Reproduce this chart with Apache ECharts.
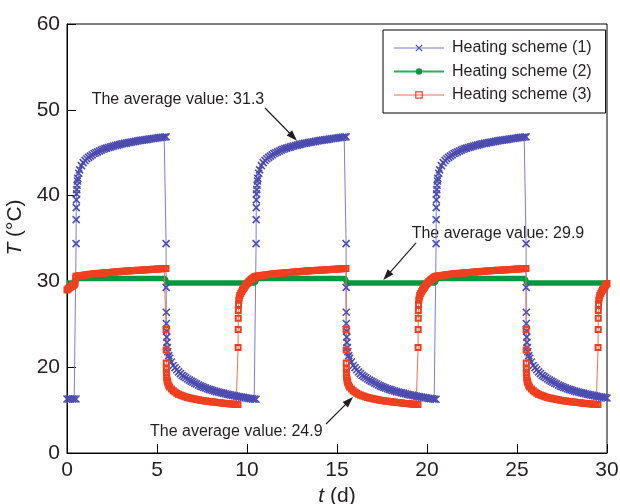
<!DOCTYPE html>
<html><head><meta charset="utf-8">
<script src="https://cdn.jsdelivr.net/npm/echarts@6/dist/echarts.min.js"></script>
<style>html,body{margin:0;padding:0;background:#fff}#c{width:620px;height:504px}</style>
</head><body><div id="c"></div>
<script>
const seriesNames = ['Heating scheme (1)', 'Heating scheme (2)', 'Heating scheme (3)'];
const yTickValues = [10, 20, 30, 40, 50, 60];
const yTickLabels = ['0', '20', '30', '40', '50', '60'];

// Heating scheme (1): [t (d), T (°C)]
const scheme1 = [
[0,16.3],[0.1,16.3],[0.2,16.3],[0.3,16.3],[0.4,16.3],[0.5,16.3],
[0.505,34.4],[0.51,37.2],[0.515,38.6],[0.52,39.5],[0.53,40.2],[0.54,40.7],[0.56,41.2],[0.58,41.7],[0.6,42.0],[0.65,42.6],[0.7,43.0],[0.8,43.5],[0.9,43.85],[1.0,44.1],[1.1,44.3],[1.2,44.45],[1.3,44.6],[1.4,44.75],[1.5,44.9],[1.6,45.0],[1.7,45.1],[1.8,45.2],[1.9,45.3],[2.0,45.4],[2.1,45.47],[2.2,45.53],[2.3,45.6],[2.4,45.65],[2.5,45.72],[2.6,45.78],[2.7,45.84],[2.8,45.89],[2.9,45.94],[3.0,46.0],[3.1,46.04],[3.2,46.08],[3.3,46.12],[3.4,46.17],[3.5,46.21],[3.6,46.25],[3.7,46.28],[3.8,46.32],[3.9,46.36],[4.0,46.4],[4.1,46.43],[4.2,46.46],[4.3,46.5],[4.4,46.53],[4.5,46.56],[4.6,46.59],[4.7,46.62],[4.8,46.65],[4.9,46.68],[5.0,46.71],[5.1,46.74],[5.2,46.77],[5.3,46.8],[5.4,46.83],[5.5,46.85],
[5.505,34.4],[5.51,29.3],[5.515,26.4],[5.52,25.1],[5.53,24.2],[5.54,23.5],[5.55,22.9],[5.57,22.3],[5.6,21.8],[5.65,21.35],[5.7,21.05],[5.8,20.6],[5.9,20.2],[6.0,19.95],[6.1,19.7],[6.2,19.45],[6.3,19.25],[6.4,19.05],[6.5,18.9],[6.6,18.77],[6.7,18.63],[6.8,18.5],[6.9,18.38],[7.0,18.27],[7.1,18.15],[7.2,18.04],[7.3,17.93],[7.4,17.83],[7.5,17.74],[7.6,17.65],[7.7,17.57],[7.8,17.49],[7.9,17.42],[8.0,17.35],[8.1,17.29],[8.2,17.22],[8.3,17.16],[8.4,17.11],[8.5,17.05],[8.6,17.0],[8.7,16.95],[8.8,16.9],[8.9,16.85],[9.0,16.8],[9.1,16.76],[9.2,16.71],[9.3,16.67],[9.4,16.63],[9.5,16.59],[9.6,16.55],[9.7,16.51],[9.8,16.48],[9.9,16.44],[10.0,16.41],[10.1,16.37],[10.2,16.34],[10.3,16.31],[10.4,16.28],[10.5,16.26],
[10.505,34.4],[10.51,37.2],[10.515,38.6],[10.52,39.5],[10.53,40.2],[10.54,40.7],[10.56,41.2],[10.58,41.7],[10.6,42.0],[10.65,42.6],[10.7,43.0],[10.8,43.5],[10.9,43.85],[11.0,44.1],[11.1,44.3],[11.2,44.45],[11.3,44.6],[11.4,44.75],[11.5,44.9],[11.6,45.0],[11.7,45.1],[11.8,45.2],[11.9,45.3],[12.0,45.4],[12.1,45.47],[12.2,45.53],[12.3,45.6],[12.4,45.65],[12.5,45.72],[12.6,45.78],[12.7,45.84],[12.8,45.89],[12.9,45.94],[13.0,46.0],[13.1,46.04],[13.2,46.08],[13.3,46.12],[13.4,46.17],[13.5,46.21],[13.6,46.25],[13.7,46.28],[13.8,46.32],[13.9,46.36],[14.0,46.4],[14.1,46.43],[14.2,46.46],[14.3,46.5],[14.4,46.53],[14.5,46.56],[14.6,46.59],[14.7,46.62],[14.8,46.65],[14.9,46.68],[15.0,46.71],[15.1,46.74],[15.2,46.77],[15.3,46.8],[15.4,46.83],[15.5,46.85],
[15.505,34.4],[15.51,29.3],[15.515,26.4],[15.52,25.1],[15.53,24.2],[15.54,23.5],[15.55,22.9],[15.57,22.3],[15.6,21.8],[15.65,21.35],[15.7,21.05],[15.8,20.6],[15.9,20.2],[16.0,19.95],[16.1,19.7],[16.2,19.45],[16.3,19.25],[16.4,19.05],[16.5,18.9],[16.6,18.77],[16.7,18.63],[16.8,18.5],[16.9,18.38],[17.0,18.27],[17.1,18.15],[17.2,18.04],[17.3,17.93],[17.4,17.83],[17.5,17.74],[17.6,17.65],[17.7,17.57],[17.8,17.49],[17.9,17.42],[18.0,17.35],[18.1,17.29],[18.2,17.22],[18.3,17.16],[18.4,17.11],[18.5,17.05],[18.6,17.0],[18.7,16.95],[18.8,16.9],[18.9,16.85],[19.0,16.8],[19.1,16.76],[19.2,16.71],[19.3,16.67],[19.4,16.63],[19.5,16.59],[19.6,16.55],[19.7,16.51],[19.8,16.48],[19.9,16.44],[20.0,16.41],[20.1,16.37],[20.2,16.34],[20.3,16.31],[20.4,16.28],[20.5,16.26],
[20.505,34.4],[20.51,37.2],[20.515,38.6],[20.52,39.5],[20.53,40.2],[20.54,40.7],[20.56,41.2],[20.58,41.7],[20.6,42.0],[20.65,42.6],[20.7,43.0],[20.8,43.5],[20.9,43.85],[21.0,44.1],[21.1,44.3],[21.2,44.45],[21.3,44.6],[21.4,44.75],[21.5,44.9],[21.6,45.0],[21.7,45.1],[21.8,45.2],[21.9,45.3],[22.0,45.4],[22.1,45.47],[22.2,45.53],[22.3,45.6],[22.4,45.65],[22.5,45.72],[22.6,45.78],[22.7,45.84],[22.8,45.89],[22.9,45.94],[23.0,46.0],[23.1,46.04],[23.2,46.08],[23.3,46.12],[23.4,46.17],[23.5,46.21],[23.6,46.25],[23.7,46.28],[23.8,46.32],[23.9,46.36],[24.0,46.4],[24.1,46.43],[24.2,46.46],[24.3,46.5],[24.4,46.53],[24.5,46.56],[24.6,46.59],[24.7,46.62],[24.8,46.65],[24.9,46.68],[25.0,46.71],[25.1,46.74],[25.2,46.77],[25.3,46.8],[25.4,46.83],[25.5,46.85],
[25.505,34.4],[25.51,29.3],[25.515,26.4],[25.52,25.1],[25.53,24.2],[25.54,23.5],[25.55,22.9],[25.57,22.3],[25.6,21.8],[25.65,21.35],[25.7,21.05],[25.8,20.6],[25.9,20.2],[26.0,19.95],[26.1,19.7],[26.2,19.45],[26.3,19.25],[26.4,19.05],[26.5,18.9],[26.6,18.77],[26.7,18.63],[26.8,18.5],[26.9,18.38],[27.0,18.27],[27.1,18.15],[27.2,18.04],[27.3,17.93],[27.4,17.83],[27.5,17.74],[27.6,17.65],[27.7,17.57],[27.8,17.49],[27.9,17.42],[28.0,17.35],[28.1,17.29],[28.2,17.22],[28.3,17.16],[28.4,17.11],[28.5,17.05],[28.6,17.0],[28.7,16.95],[28.8,16.9],[28.9,16.85],[29.0,16.8],[29.1,16.76],[29.2,16.71],[29.3,16.67],[29.4,16.63],[29.5,16.59],[29.6,16.55],[29.7,16.51],[29.8,16.48],[29.9,16.44],[30.0,16.41]
];

// Heating scheme (2)
const scheme2 = [
[0,29.8],[0.45,29.8],[0.55,30.35],[5.45,30.35],[5.55,29.8],[10.45,29.8],[10.55,30.35],[15.45,30.35],[15.55,29.8],[20.45,29.8],[20.55,30.35],[25.45,30.35],[25.55,29.8],[30,29.8]
];

// Heating scheme (3)
const scheme3 = [
[0,29.0],[0.05,29.1],[0.1,29.2],[0.15,29.3],[0.2,29.35],[0.25,29.4],[0.3,29.5],[0.35,29.55],[0.4,29.65],[0.45,29.8],[0.48,30.4],
[0.5,30.6],[0.6,30.63],[0.7,30.66],[0.8,30.69],[0.9,30.72],[1.0,30.75],[1.1,30.78],[1.2,30.81],[1.3,30.83],[1.4,30.86],[1.5,30.88],[1.6,30.9],[1.7,30.92],[1.8,30.94],[1.9,30.96],[2.0,30.98],[2.1,31.0],[2.2,31.02],[2.3,31.04],[2.4,31.05],[2.5,31.07],[2.6,31.09],[2.7,31.1],[2.8,31.12],[2.9,31.13],[3.0,31.15],[3.1,31.17],[3.2,31.18],[3.3,31.2],[3.4,31.21],[3.5,31.23],[3.6,31.24],[3.7,31.26],[3.8,31.27],[3.9,31.29],[4.0,31.3],[4.1,31.31],[4.2,31.33],[4.3,31.34],[4.4,31.36],[4.5,31.37],[4.6,31.38],[4.7,31.4],[4.8,31.41],[4.9,31.43],[5.0,31.44],[5.1,31.45],[5.2,31.47],[5.3,31.48],[5.4,31.49],[5.5,31.5],
[5.505,24.4],[5.51,22.0],[5.515,20.5],[5.52,19.8],[5.525,19.4],[5.53,19.1],[5.54,18.8],[5.56,18.5],[5.58,18.3],[5.6,18.15],[5.65,17.9],[5.7,17.7],[5.8,17.45],[5.9,17.25],[6.0,17.1],[6.1,16.97],[6.2,16.86],[6.3,16.76],[6.4,16.67],[6.5,16.6],[6.6,16.53],[6.7,16.47],[6.8,16.42],[6.9,16.37],[7.0,16.32],[7.1,16.28],[7.2,16.24],[7.3,16.2],[7.4,16.16],[7.5,16.13],[7.6,16.1],[7.7,16.07],[7.8,16.04],[7.9,16.01],[8.0,15.98],[8.1,15.95],[8.2,15.93],[8.3,15.9],[8.4,15.88],[8.5,15.85],[8.6,15.83],[8.7,15.81],[8.8,15.78],[8.9,15.76],[9.0,15.74],[9.1,15.72],[9.2,15.7],[9.3,15.68],[9.4,15.66],[9.5,15.64],
[9.505,22.3],[9.51,24.4],[9.515,25.7],[9.52,26.6],[9.53,27.3],[9.545,27.8],[9.57,28.1],[9.6,28.35],[9.65,28.6],[9.7,28.8],[9.75,29.0],[9.8,29.15],[9.85,29.3],[9.9,29.45],[9.95,29.6],[10.0,29.75],[10.05,29.85],[10.1,29.95],[10.15,30.05],[10.2,30.15],[10.25,30.25],[10.3,30.32],[10.35,30.4],[10.4,30.47],[10.45,30.53],
[10.5,30.6],[10.6,30.63],[10.7,30.66],[10.8,30.69],[10.9,30.72],[11.0,30.75],[11.1,30.78],[11.2,30.81],[11.3,30.83],[11.4,30.86],[11.5,30.88],[11.6,30.9],[11.7,30.92],[11.8,30.94],[11.9,30.96],[12.0,30.98],[12.1,31.0],[12.2,31.02],[12.3,31.04],[12.4,31.05],[12.5,31.07],[12.6,31.09],[12.7,31.1],[12.8,31.12],[12.9,31.13],[13.0,31.15],[13.1,31.17],[13.2,31.18],[13.3,31.2],[13.4,31.21],[13.5,31.23],[13.6,31.24],[13.7,31.26],[13.8,31.27],[13.9,31.29],[14.0,31.3],[14.1,31.31],[14.2,31.33],[14.3,31.34],[14.4,31.36],[14.5,31.37],[14.6,31.38],[14.7,31.4],[14.8,31.41],[14.9,31.43],[15.0,31.44],[15.1,31.45],[15.2,31.47],[15.3,31.48],[15.4,31.49],[15.5,31.5],
[15.505,24.4],[15.51,22.0],[15.515,20.5],[15.52,19.8],[15.525,19.4],[15.53,19.1],[15.54,18.8],[15.56,18.5],[15.58,18.3],[15.6,18.15],[15.65,17.9],[15.7,17.7],[15.8,17.45],[15.9,17.25],[16.0,17.1],[16.1,16.97],[16.2,16.86],[16.3,16.76],[16.4,16.67],[16.5,16.6],[16.6,16.53],[16.7,16.47],[16.8,16.42],[16.9,16.37],[17.0,16.32],[17.1,16.28],[17.2,16.24],[17.3,16.2],[17.4,16.16],[17.5,16.13],[17.6,16.1],[17.7,16.07],[17.8,16.04],[17.9,16.01],[18.0,15.98],[18.1,15.95],[18.2,15.93],[18.3,15.9],[18.4,15.88],[18.5,15.85],[18.6,15.83],[18.7,15.81],[18.8,15.78],[18.9,15.76],[19.0,15.74],[19.1,15.72],[19.2,15.7],[19.3,15.68],[19.4,15.66],[19.5,15.64],
[19.505,22.3],[19.51,24.4],[19.515,25.7],[19.52,26.6],[19.53,27.3],[19.545,27.8],[19.57,28.1],[19.6,28.35],[19.65,28.6],[19.7,28.8],[19.75,29.0],[19.8,29.15],[19.85,29.3],[19.9,29.45],[19.95,29.6],[20.0,29.75],[20.05,29.85],[20.1,29.95],[20.15,30.05],[20.2,30.15],[20.25,30.25],[20.3,30.32],[20.35,30.4],[20.4,30.47],[20.45,30.53],
[20.5,30.6],[20.6,30.63],[20.7,30.66],[20.8,30.69],[20.9,30.72],[21.0,30.75],[21.1,30.78],[21.2,30.81],[21.3,30.83],[21.4,30.86],[21.5,30.88],[21.6,30.9],[21.7,30.92],[21.8,30.94],[21.9,30.96],[22.0,30.98],[22.1,31.0],[22.2,31.02],[22.3,31.04],[22.4,31.05],[22.5,31.07],[22.6,31.09],[22.7,31.1],[22.8,31.12],[22.9,31.13],[23.0,31.15],[23.1,31.17],[23.2,31.18],[23.3,31.2],[23.4,31.21],[23.5,31.23],[23.6,31.24],[23.7,31.26],[23.8,31.27],[23.9,31.29],[24.0,31.3],[24.1,31.31],[24.2,31.33],[24.3,31.34],[24.4,31.36],[24.5,31.37],[24.6,31.38],[24.7,31.4],[24.8,31.41],[24.9,31.43],[25.0,31.44],[25.1,31.45],[25.2,31.47],[25.3,31.48],[25.4,31.49],[25.5,31.5],
[25.505,24.4],[25.51,22.0],[25.515,20.5],[25.52,19.8],[25.525,19.4],[25.53,19.1],[25.54,18.8],[25.56,18.5],[25.58,18.3],[25.6,18.15],[25.65,17.9],[25.7,17.7],[25.8,17.45],[25.9,17.25],[26.0,17.1],[26.1,16.97],[26.2,16.86],[26.3,16.76],[26.4,16.67],[26.5,16.6],[26.6,16.53],[26.7,16.47],[26.8,16.42],[26.9,16.37],[27.0,16.32],[27.1,16.28],[27.2,16.24],[27.3,16.2],[27.4,16.16],[27.5,16.13],[27.6,16.1],[27.7,16.07],[27.8,16.04],[27.9,16.01],[28.0,15.98],[28.1,15.95],[28.2,15.93],[28.3,15.9],[28.4,15.88],[28.5,15.85],[28.6,15.83],[28.7,15.81],[28.8,15.78],[28.9,15.76],[29.0,15.74],[29.1,15.72],[29.2,15.7],[29.3,15.68],[29.4,15.66],[29.5,15.64],
[29.505,22.3],[29.51,24.4],[29.515,25.7],[29.52,26.6],[29.53,27.3],[29.545,27.8],[29.57,28.1],[29.6,28.35],[29.65,28.6],[29.7,28.8],[29.75,29.0],[29.8,29.15],[29.85,29.3],[29.9,29.45],[29.95,29.6],[30.0,29.75]
];

const annotations = [
  {text: 'The average value: 31.3', at: [1.37, 51.14], tail: [11.0, 50.21], head: [12.78, 46.4]},
  {text: 'The average value: 29.9', at: [19.15, 35.52], tail: [19.39, 34.48], head: [17.57, 30.16]},
  {text: 'The average value: 24.9', at: [4.61, 12.48], tail: [14.39, 13.38], head: [15.89, 16.53]}
];

const FONT = '"Liberation Sans", Arial, Helvetica, sans-serif';
const INK = '#231f20';
const xSym = 'path://M0,0L10,10M0,10L10,0';
const sqSym = 'path://M0,0L10,0L10,10L0,10Z';

const chart = echarts.init(document.getElementById('c'), null, {renderer: 'canvas'});
chart.setOption({
  animation: false,
  backgroundColor: '#fff',
  textStyle: {fontFamily: FONT},
  grid: {left: 67, right: 13, top: 24, bottom: 51, containLabel: false, outerBoundsMode: 'none',
    show: true, borderColor: '#000', borderWidth: 1, backgroundColor: 'transparent'},
  legend: {
    left: 383, top: 30, orient: 'vertical', selectedMode: false,
    backgroundColor: '#fff', borderColor: '#000', borderWidth: 1,
    padding: [10, 14, 10, 10], itemWidth: 50, itemHeight: 8, itemGap: 7.5,
    textStyle: {fontSize: 16, color: INK, fontFamily: FONT, lineHeight: 16, padding: [0, 0, 0, 3]},
    data: [
      {name: seriesNames[0], lineStyle: {width: 1.2}, itemStyle: {borderWidth: 1.2}},
      {name: seriesNames[1], lineStyle: {width: 2, color: '#2fae5a'}},
      {name: seriesNames[2], lineStyle: {width: 1.2}, itemStyle: {borderWidth: 1.2}}
    ]
  },
  xAxis: {
    type: 'value', min: 0, max: 30, interval: 5,
    name: '{i|t} (d)', nameLocation: 'middle', nameGap: 32,
    nameTextStyle: {fontSize: 21, color: INK, fontFamily: FONT, rich: {i: {fontStyle: 'italic', fontSize: 21, fontFamily: FONT, color: INK}}},
    axisLine: {lineStyle: {color: '#000', width: 1}},
    axisTick: {inside: true, length: 9, lineStyle: {color: '#000'}},
    axisLabel: {fontSize: 21, color: INK, margin: 7, fontFamily: FONT},
    splitLine: {show: false}
  },
  yAxis: {
    type: 'value', min: 10, max: 60, interval: 10,
    name: '{i|T} (°C)', nameLocation: 'middle', nameGap: 34,
    nameTextStyle: {fontSize: 21, color: INK, fontFamily: FONT, padding: [0, 0, 0, 22], rich: {i: {fontStyle: 'italic', fontSize: 21, fontFamily: FONT, color: INK}}},
    axisLine: {lineStyle: {color: '#000', width: 1}},
    axisTick: {inside: true, length: 9, lineStyle: {color: '#000'}},
    axisLabel: {fontSize: 21, color: INK, margin: 7, fontFamily: FONT,
      formatter: v => { const i = yTickValues.indexOf(v); return i >= 0 ? yTickLabels[i] : ''; }},
    splitLine: {show: false}
  },
  series: [
    {
      name: seriesNames[0], type: 'line', data: scheme1, silent: true,
      symbol: xSym, symbolSize: 7, showSymbol: true,
      lineStyle: {color: '#7d7dd2', width: 1},
      itemStyle: {color: 'rgba(0,0,0,0)', borderColor: '#4c4cb0', borderWidth: 1.6},
      emphasis: {disabled: true}
    },
    {
      name: seriesNames[1], type: 'line', data: scheme2, silent: true,
      symbol: 'circle', symbolSize: 5, showSymbol: false,
      lineStyle: {color: '#00993f', width: 5.5},
      itemStyle: {color: '#00993f'},
      emphasis: {disabled: true}
    },
    {
      name: seriesNames[2], type: 'line', data: scheme3, silent: true,
      symbol: sqSym, symbolSize: 5, showSymbol: true,
      lineStyle: {color: '#f2704e', width: 1},
      itemStyle: {color: 'rgba(0,0,0,0)', borderColor: '#ee4020', borderWidth: 2},
      emphasis: {disabled: true}
    }
  ]
});

function px(p) { return chart.convertToPixel({gridIndex: 0}, p); }
const graphics = [];
annotations.forEach(a => {
  const [tx, ty] = px(a.at);
  graphics.push({type: 'text', x: tx, y: ty, silent: true,
    style: {text: a.text, fontSize: 16, fontFamily: FONT, fill: INK, align: 'left', verticalAlign: 'middle'}});
  const [x1, y1] = px(a.tail);
  const [x2, y2] = px(a.head);
  const dx = x2 - x1, dy = y2 - y1, L = Math.hypot(dx, dy), ux = dx / L, uy = dy / L;
  const hl = 11, hw = 3.8;
  const bx = x2 - ux * hl, by = y2 - uy * hl;
  graphics.push({type: 'line', silent: true, shape: {x1: x1, y1: y1, x2: bx + ux * 2, y2: by + uy * 2}, style: {stroke: INK, lineWidth: 1.2}});
  graphics.push({type: 'polygon', silent: true, shape: {points: [[x2, y2], [bx - uy * hw, by + ux * hw], [bx + uy * hw, by - ux * hw]]}, style: {fill: INK}});
});
chart.setOption({graphic: graphics});
</script>
</body></html>
